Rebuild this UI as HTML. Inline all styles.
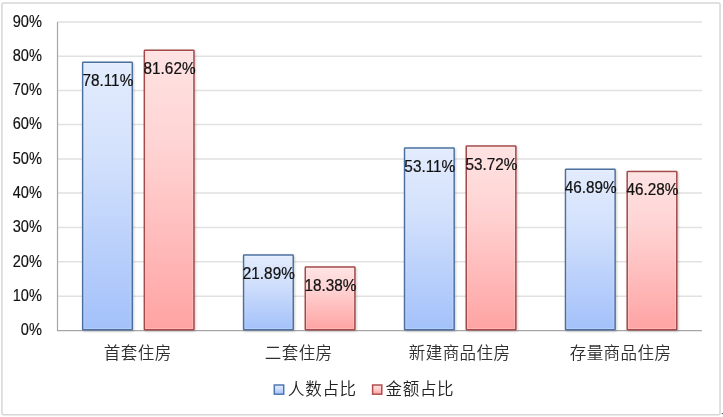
<!DOCTYPE html>
<html lang="zh"><head><meta charset="utf-8"><title>chart</title>
<style>
html,body{margin:0;padding:0;background:#fff;}
body{width:723px;height:417px;overflow:hidden;}
svg{display:block}
text{font-family:"Liberation Sans","Noto Sans CJK SC",sans-serif;fill:#111}
.ax{font-size:14.3px;stroke:#111;stroke-width:0.15px}
.dl{font-size:14.8px;stroke:#111;stroke-width:0.2px}
.cat{font-size:16.5px;font-weight:350;letter-spacing:0.45px;fill:#303030}
.lg{font-size:16.5px;font-weight:350;letter-spacing:0.7px;fill:#222}
</style></head><body>
<svg width="723" height="417" viewBox="0 0 723 417">
<defs>
<linearGradient id="gb" x1="0" y1="0" x2="0" y2="1"><stop offset="0" stop-color="#e3ecfd"/><stop offset="0.35" stop-color="#d3e1fc"/><stop offset="1" stop-color="#a3c1fa"/></linearGradient>
<linearGradient id="gr" x1="0" y1="0" x2="0" y2="1"><stop offset="0" stop-color="#ffe3e3"/><stop offset="0.35" stop-color="#ffd3d3"/><stop offset="1" stop-color="#ffa3a3"/></linearGradient>
<filter id="sh" x="-10%" y="-10%" width="125%" height="120%"><feGaussianBlur in="SourceAlpha" stdDeviation="0.9" result="b"/><feOffset in="b" dx="0.7" dy="0.5" result="o"/><feComponentTransfer in="o" result="s"><feFuncA type="linear" slope="0.2"/></feComponentTransfer><feMerge><feMergeNode in="s"/><feMergeNode in="SourceGraphic"/></feMerge></filter>
</defs>
<rect x="0" y="0" width="723" height="417" fill="#ffffff"/>
<rect x="1.95" y="2.95" width="718.1" height="411.8" rx="1.5" fill="#ffffff" stroke="#d6d6d6" stroke-width="1.5"/>
<rect x="721.7" y="413" width="1.3" height="1.1" fill="#666"/>

<line x1="57.5" y1="296.30" x2="702.0" y2="296.30" stroke="#e1e1e1" stroke-width="1.5"/>
<line x1="57.5" y1="261.70" x2="702.0" y2="261.70" stroke="#e1e1e1" stroke-width="1.5"/>
<line x1="57.5" y1="227.40" x2="702.0" y2="227.40" stroke="#e1e1e1" stroke-width="1.5"/>
<line x1="57.5" y1="193.10" x2="702.0" y2="193.10" stroke="#e1e1e1" stroke-width="1.5"/>
<line x1="57.5" y1="158.90" x2="702.0" y2="158.90" stroke="#e1e1e1" stroke-width="1.5"/>
<line x1="57.5" y1="124.60" x2="702.0" y2="124.60" stroke="#e1e1e1" stroke-width="1.5"/>
<line x1="57.5" y1="90.40" x2="702.0" y2="90.40" stroke="#e1e1e1" stroke-width="1.5"/>
<line x1="57.5" y1="56.30" x2="702.0" y2="56.30" stroke="#e1e1e1" stroke-width="1.5"/>
<line x1="57.5" y1="22.10" x2="702.0" y2="22.10" stroke="#e1e1e1" stroke-width="1.5"/>
<line x1="57.5" y1="22.1" x2="57.5" y2="330.35" stroke="#a6a6a6" stroke-width="1.2"/>
<line x1="56.9" y1="330.65000000000003" x2="702.0" y2="330.65000000000003" stroke="#a6a6a6" stroke-width="1.2"/>
<g filter="url(#sh)">
<rect x="82.65" y="62.34" width="49.60" height="267.51" rx="0.6" fill="url(#gb)" stroke="#4b6f9f" stroke-width="1.5"/>
<rect x="144.35" y="50.31" width="49.60" height="279.54" rx="0.6" fill="url(#gr)" stroke="#a34848" stroke-width="1.5"/>
<rect x="243.60" y="255.06" width="49.60" height="74.79" rx="0.6" fill="url(#gb)" stroke="#4b6f9f" stroke-width="1.5"/>
<rect x="305.30" y="267.09" width="49.60" height="62.76" rx="0.6" fill="url(#gr)" stroke="#a34848" stroke-width="1.5"/>
<rect x="404.55" y="148.04" width="49.60" height="181.81" rx="0.6" fill="url(#gb)" stroke="#4b6f9f" stroke-width="1.5"/>
<rect x="466.25" y="145.95" width="49.60" height="183.90" rx="0.6" fill="url(#gr)" stroke="#a34848" stroke-width="1.5"/>
<rect x="565.50" y="169.36" width="49.60" height="160.49" rx="0.6" fill="url(#gb)" stroke="#4b6f9f" stroke-width="1.5"/>
<rect x="627.20" y="171.45" width="49.60" height="158.40" rx="0.6" fill="url(#gr)" stroke="#a34848" stroke-width="1.5"/>
</g>
<rect x="83.90" y="63.59" width="47.10" height="265.01" fill="none" stroke="#ffffff" stroke-opacity="0.22" stroke-width="1"/>
<rect x="145.60" y="51.56" width="47.10" height="277.04" fill="none" stroke="#ffffff" stroke-opacity="0.22" stroke-width="1"/>
<rect x="244.85" y="256.31" width="47.10" height="72.29" fill="none" stroke="#ffffff" stroke-opacity="0.22" stroke-width="1"/>
<rect x="306.55" y="268.34" width="47.10" height="60.26" fill="none" stroke="#ffffff" stroke-opacity="0.22" stroke-width="1"/>
<rect x="405.80" y="149.29" width="47.10" height="179.31" fill="none" stroke="#ffffff" stroke-opacity="0.22" stroke-width="1"/>
<rect x="467.50" y="147.20" width="47.10" height="181.40" fill="none" stroke="#ffffff" stroke-opacity="0.22" stroke-width="1"/>
<rect x="566.75" y="170.61" width="47.10" height="157.99" fill="none" stroke="#ffffff" stroke-opacity="0.22" stroke-width="1"/>
<rect x="628.45" y="172.70" width="47.10" height="155.90" fill="none" stroke="#ffffff" stroke-opacity="0.22" stroke-width="1"/>
<text class="ax" transform="translate(41.9,335.45) scale(1.02,1.09)" text-anchor="end">0%</text>
<text class="ax" transform="translate(41.9,301.40) scale(1.02,1.09)" text-anchor="end">10%</text>
<text class="ax" transform="translate(41.9,266.50) scale(1.02,1.09)" text-anchor="end">20%</text>
<text class="ax" transform="translate(41.9,232.20) scale(1.02,1.09)" text-anchor="end">30%</text>
<text class="ax" transform="translate(41.9,197.90) scale(1.02,1.09)" text-anchor="end">40%</text>
<text class="ax" transform="translate(41.9,163.70) scale(1.02,1.09)" text-anchor="end">50%</text>
<text class="ax" transform="translate(41.9,129.40) scale(1.02,1.09)" text-anchor="end">60%</text>
<text class="ax" transform="translate(41.9,95.20) scale(1.02,1.09)" text-anchor="end">70%</text>
<text class="ax" transform="translate(41.9,61.10) scale(1.02,1.09)" text-anchor="end">80%</text>
<text class="ax" transform="translate(41.9,26.90) scale(1.02,1.09)" text-anchor="end">90%</text>
<text class="dl" transform="translate(107.85,85.94) scale(1.035,1.07)" text-anchor="middle">78.11%</text>
<text class="dl" transform="translate(169.55,73.91) scale(1.035,1.07)" text-anchor="middle">81.62%</text>
<text class="cat" x="137.70" y="358.5" text-anchor="middle">首套住房</text>
<text class="dl" transform="translate(268.80,278.66) scale(1.035,1.07)" text-anchor="middle">21.89%</text>
<text class="dl" transform="translate(330.50,290.69) scale(1.035,1.07)" text-anchor="middle">18.38%</text>
<text class="cat" x="298.65" y="358.5" text-anchor="middle">二套住房</text>
<text class="dl" transform="translate(429.75,171.64) scale(1.035,1.07)" text-anchor="middle">53.11%</text>
<text class="dl" transform="translate(491.45,169.55) scale(1.035,1.07)" text-anchor="middle">53.72%</text>
<text class="cat" x="459.60" y="358.5" text-anchor="middle">新建商品住房</text>
<text class="dl" transform="translate(590.70,193.36) scale(1.035,1.07)" text-anchor="middle">46.89%</text>
<text class="dl" transform="translate(652.40,195.05) scale(1.035,1.07)" text-anchor="middle">46.28%</text>
<text class="cat" x="620.55" y="358.5" text-anchor="middle">存量商品住房</text>
<rect x="274.3" y="385" width="9.4" height="9.2" fill="url(#gb)" stroke="#4f78b2" stroke-width="1.5"/>
<text class="lg" x="288" y="395.3">人数占比</text>
<rect x="372.6" y="385" width="9.2" height="9.2" fill="url(#gr)" stroke="#b04e4e" stroke-width="1.5"/>
<text class="lg" x="385.5" y="395.3">金额占比</text>
</svg></body></html>
